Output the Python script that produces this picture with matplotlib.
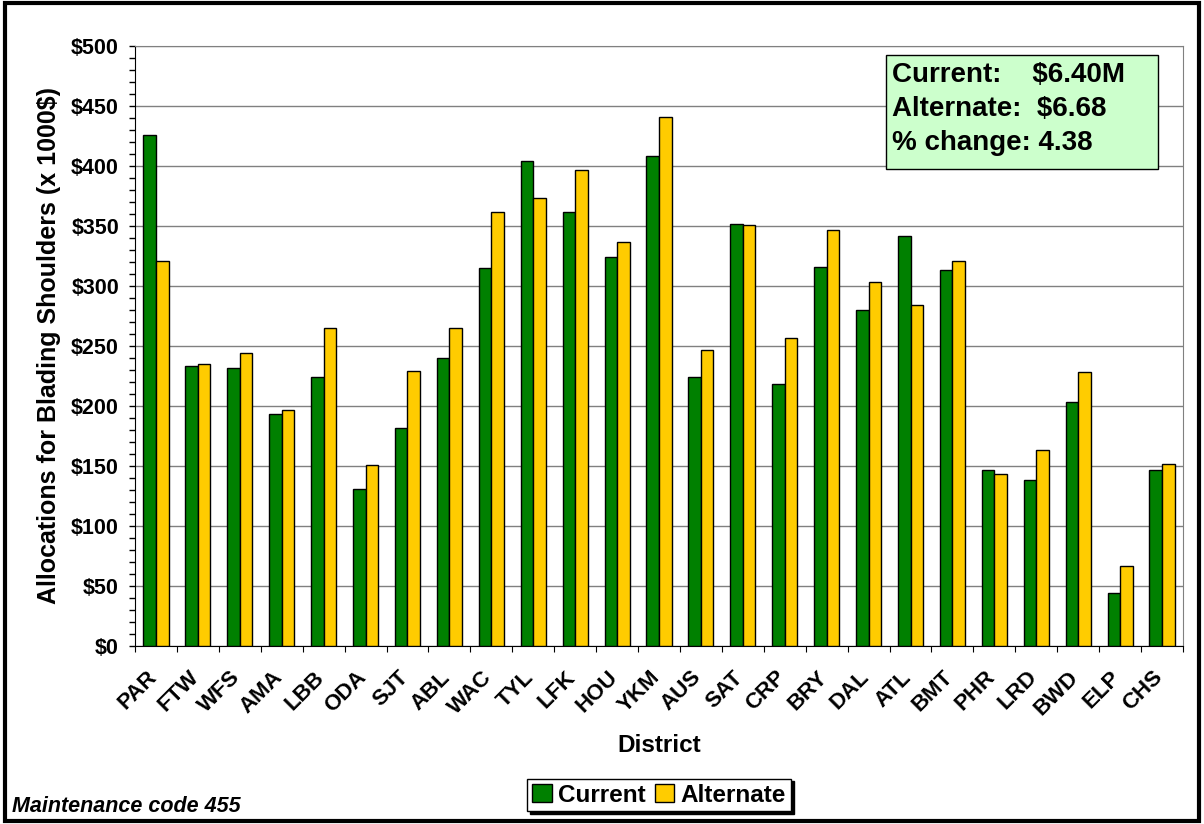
import numpy as np
import matplotlib
matplotlib.use('Agg')
import matplotlib.pyplot as plt
import matplotlib.transforms as mtransforms
from matplotlib.ticker import MultipleLocator, FuncFormatter
from matplotlib.patches import Rectangle

plt.rcParams['font.family'] = ['Liberation Sans', 'DejaVu Sans']
plt.rcParams['font.weight'] = 'bold'

# data (x $1000)
districts = ['PAR', 'FTW', 'WFS', 'AMA', 'LBB', 'ODA', 'SJT', 'ABL', 'WAC', 'TYL',
             'LFK', 'HOU', 'YKM', 'AUS', 'SAT', 'CRP', 'BRY', 'DAL', 'ATL', 'BMT',
             'PHR', 'LRD', 'BWD', 'ELP', 'CHS']
current = [426, 233, 232, 193, 224, 131, 182, 240, 315, 404,
           362, 324, 408, 224, 352, 218, 316, 280, 342, 313,
           147, 138, 203, 44, 147]
alternate = [321, 235, 244, 197, 265, 151, 229, 265, 362, 373,
             397, 337, 441, 247, 351, 257, 347, 303, 284, 321,
             143, 163, 228, 67, 152]
box_lines = ['Current:    $6.40M', 'Alternate:  $6.68', '% change: 4.38']

fig = plt.figure(figsize=(12.04, 8.24), dpi=100)
ax = fig.add_axes([135 / 1204, 1 - 646 / 824, (1183 - 135) / 1204, 600 / 824])

x = np.arange(len(districts))
w = 0.3
ax.bar(x - w / 2, current, w, color='#008000', edgecolor='black', linewidth=1, label='Current', zorder=3)
ax.bar(x + w / 2, alternate, w, color='#FFCC00', edgecolor='black', linewidth=1, label='Alternate', zorder=3)

ax.set_xlim(-0.5, len(districts) - 0.5)
ax.set_ylim(0, 500)
ax.yaxis.set_major_locator(MultipleLocator(50))
ax.yaxis.set_minor_locator(MultipleLocator(10))
ax.yaxis.set_major_formatter(FuncFormatter(lambda v, p: '${:.0f}'.format(v)))
ax.grid(axis='y', color='#808080', linewidth=1, zorder=0)
ax.tick_params(axis='y', which='major', length=4.5, labelsize=15.5, direction='out', width=1, pad=7)
ax.tick_params(axis='y', which='minor', length=4.5, direction='out', width=1)

# category ticks between groups, labels at centers
ax.set_xticks(np.arange(-0.5, len(districts)), minor=False)
ax.set_xticklabels([])
ax.set_xticks(x, minor=True)
ax.set_xticklabels(districts, minor=True, rotation=45, ha='right', va='top',
                   rotation_mode='anchor', fontsize=16, fontweight='bold')
ax.tick_params(axis='x', which='major', length=4.5, direction='out')
ax.tick_params(axis='x', which='minor', length=0, pad=15)
shift = mtransforms.ScaledTranslation(-10 / 100, 0, fig.dpi_scale_trans)
for lab in ax.get_xticklabels(minor=True):
    lab.set_transform(lab.get_transform() + shift)

for s in ['top', 'right']:
    ax.spines[s].set_color('#808080')
ax.spines['left'].set_color('black')
ax.spines['bottom'].set_color('black')

ax.set_ylabel('Allocations for Blading Shoulders (x 1000$)', fontsize=18, fontweight='bold', labelpad=7)
fig.text(659 / 1204, 1 - 745 / 824, 'District', ha='center', va='center', fontsize=17.5, fontweight='bold')

# summary box
ax.add_patch(Rectangle((0.7166, 0.795), 0.2595, 0.19, transform=ax.transAxes,
                       facecolor='#CCFFCC', edgecolor='black', linewidth=1, zorder=5))
for i, line in enumerate(box_lines):
    ax.text(0.7225, (646 - 75 - 34 * i) / 600, line, transform=ax.transAxes, ha='left', va='center',
            fontsize=20, fontweight='bold', zorder=6)

leg = fig.legend(loc='center', bbox_to_anchor=(659 / 1204, 1 - 795 / 824), ncol=2,
                 fontsize=17.5, frameon=True, fancybox=False, shadow={'color': 'black', 'alpha': 1},
                 handlelength=0.8, handleheight=0.8, handletextpad=0.25, columnspacing=0.4,
                 borderpad=0.2, borderaxespad=0, edgecolor='black')
leg.get_frame().set_linewidth(1)

fig.text(12 / 1204, 1 - 806 / 824, 'Maintenance code 455', ha='left', va='center',
         fontsize=15.5, fontweight='bold', fontstyle='italic')

# outer border
fig.patches.append(Rectangle((5 / 1204, 3 / 824), 1194 / 1204, 818 / 824, transform=fig.transFigure,
                             fill=False, edgecolor='black', linewidth=3))

fig.savefig('out.png', dpi=100)
